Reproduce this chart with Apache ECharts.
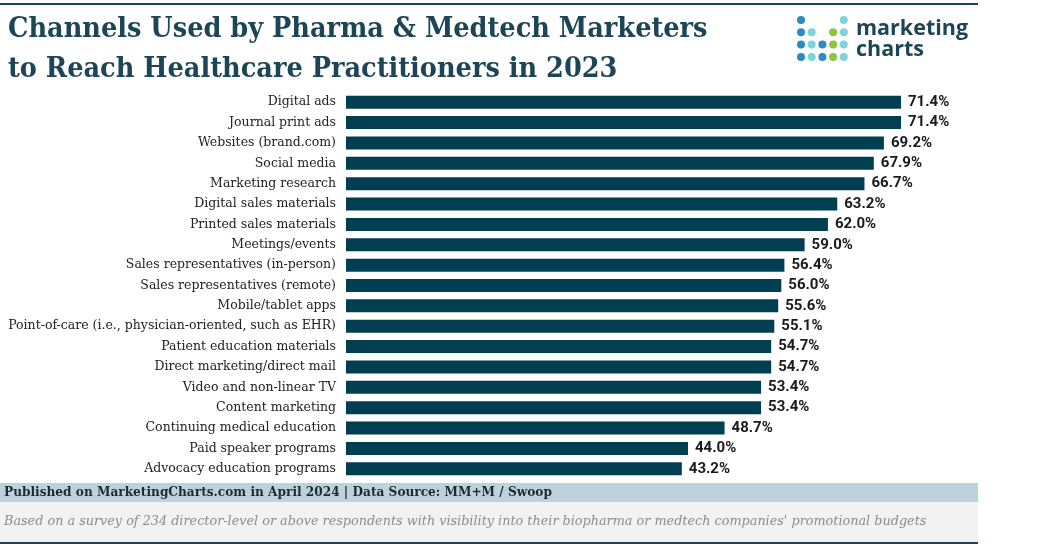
<!DOCTYPE html>
<html>
<head>
<meta charset="utf-8">
<script src="https://cdn.jsdelivr.net/npm/echarts@6/dist/echarts.min.js"></script>
<style>
  html, body { margin: 0; padding: 0; background: #fff; }
  #chart { width: 1041px; height: 547px; }
</style>
</head>
<body>
<div id="chart"></div>
<script>
var channels = [
    'Digital ads',
    'Journal print ads',
    'Websites (brand.com)',
    'Social media',
    'Marketing research',
    'Digital sales materials',
    'Printed sales materials',
    'Meetings/events',
    'Sales representatives (in-person)',
    'Sales representatives (remote)',
    'Mobile/tablet apps',
    'Point-of-care (i.e., physician-oriented, such as EHR)',
    'Patient education materials',
    'Direct marketing/direct mail',
    'Video and non-linear TV',
    'Content marketing',
    'Continuing medical education',
    'Paid speaker programs',
    'Advocacy education programs'
];
var shares = [71.4, 71.4, 69.2, 67.9, 66.7, 63.2, 62.0, 59.0, 56.4, 56.0, 55.6, 55.1, 54.7, 54.7, 53.4, 53.4, 48.7, 44.0, 43.2];

var titleLines = ['Channels Used by Pharma & Medtech Marketers', 'to Reach Healthcare Practitioners in 2023'];
var sourceText = 'Published on MarketingCharts.com in April 2024 | Data Source: MM+M / Swoop';
var noteText = 'Based on a survey of 234 director-level or above respondents with visibility into their biopharma or medtech companies\' promotional budgets';

var dark = '#1c4657';
var serifC = '"DejaVu Serif Condensed", "DejaVu Serif", serif';
var serif = '"DejaVu Serif", serif';

// logo dots: [col, row, colour]
var blue = '#2a8cc2', light = '#7fd3da', green = '#8cc63f';
var logoDots = [
    [0, 0, blue], [4, 0, light],
    [0, 1, blue], [1, 1, light], [3, 1, green], [4, 1, light],
    [0, 2, blue], [1, 2, light], [2, 2, blue], [3, 2, green], [4, 2, light],
    [0, 3, blue], [1, 3, light], [2, 3, blue], [3, 3, green], [4, 3, light]
];

function pageInit() {
    var myChart = echarts.init(document.getElementById('chart'));

    var graphics = [
        { type: 'rect', shape: { x: 0, y: 3, width: 978, height: 2 }, style: { fill: dark } },
        { type: 'text', left: 8, top: 15, style: { text: titleLines[0], font: 'bold 28.5px ' + serifC, fill: dark } },
        { type: 'text', left: 8, top: 55, style: { text: titleLines[1], font: 'bold 28.5px ' + serifC, fill: dark } },
        { type: 'text', left: 856, top: 18, style: { text: 'marketing', font: 'bold 21.5px "Open Sans", sans-serif', fill: dark } },
        { type: 'text', left: 856, top: 39, style: { text: 'charts', font: 'bold 21.5px "Open Sans", sans-serif', fill: dark } },
        { type: 'rect', shape: { x: 0, y: 483, width: 978, height: 19 }, style: { fill: '#bcd3de' } },
        { type: 'text', left: 4, top: 485, style: { text: sourceText, font: 'bold 13.5px ' + serifC, fill: '#1d2a30' } },
        { type: 'rect', shape: { x: 0, y: 502, width: 978, height: 40 }, style: { fill: '#f2f2f2' } },
        { type: 'text', left: 4, top: 515, style: { text: noteText, font: 'italic 12.8px ' + serif, fill: '#8c8c8c' } },
        { type: 'rect', shape: { x: 0, y: 542, width: 978, height: 2 }, style: { fill: dark } }
    ];
    logoDots.forEach(function (d) {
        graphics.push({
            type: 'circle',
            shape: { cx: 801 + d[0] * 10.7, cy: 20 + d[1] * 12.3, r: 4 },
            style: { fill: d[2] }
        });
    });

    var option = {
        animation: false,
        grid: { left: 346, top: 92, width: 555, height: 387, containLabel: false },
        xAxis: {
            type: 'value', min: 0, max: 71.4,
            show: false
        },
        yAxis: {
            type: 'category',
            data: channels,
            inverse: true,
            axisLine: { show: false },
            axisTick: { show: false },
            axisLabel: {
                margin: 10,
                color: '#222',
                fontFamily: serif,
                fontSize: 12.5
            }
        },
        series: [{
            type: 'bar',
            data: shares,
            barWidth: 13,
            itemStyle: { color: '#003f52' },
            label: {
                show: true,
                position: 'right',
                distance: 7,
                formatter: function (p) { return p.value.toFixed(1) + '%'; },
                color: '#1a1a1a',
                fontWeight: 'bold',
                fontSize: 15,
                fontFamily: 'Roboto, sans-serif'
            }
        }],
        graphic: graphics
    };
    myChart.setOption(option);
}

window.onload = function () {
    pageInit();
}
</script>
</body>
</html>
